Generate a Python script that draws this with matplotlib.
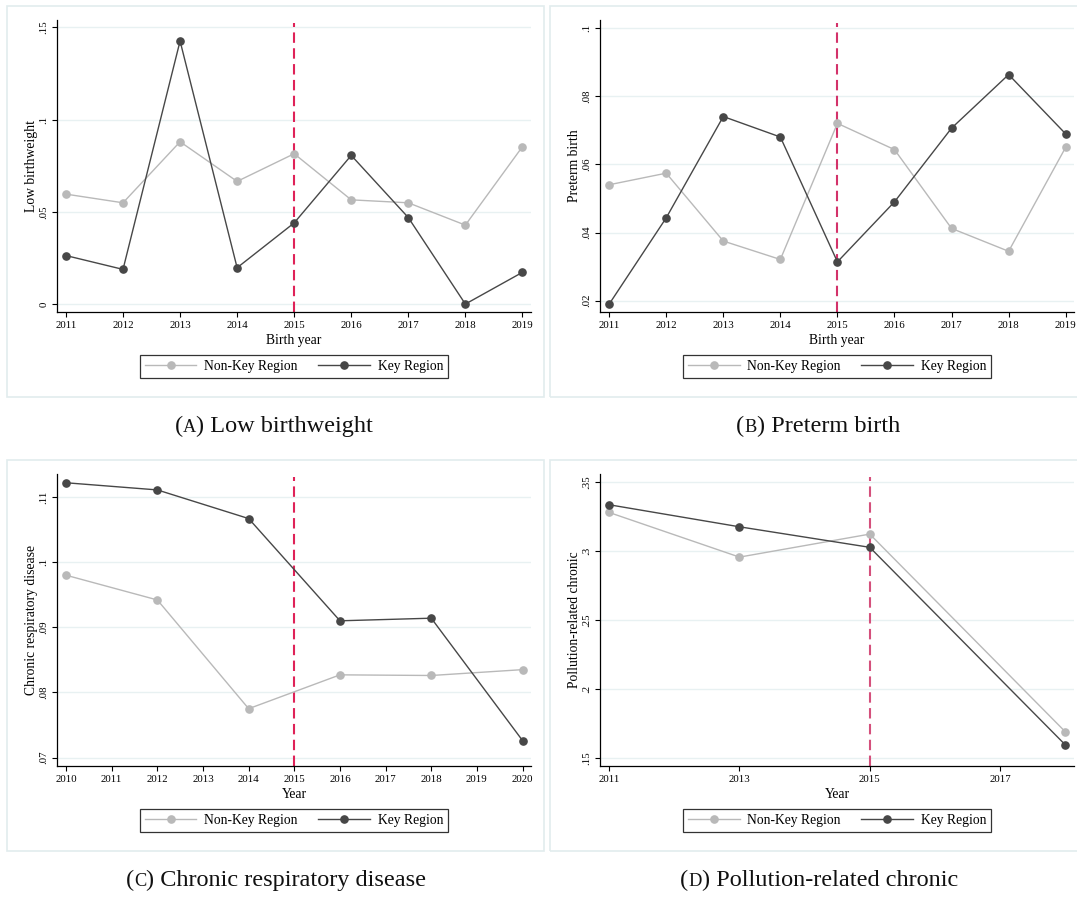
import matplotlib
matplotlib.use("Agg")
import matplotlib.pyplot as plt
from matplotlib.patches import Rectangle
from matplotlib.lines import Line2D
from matplotlib.offsetbox import TextArea, HPacker, AnnotationBbox

plt.rcParams['font.family'] = ['Liberation Serif', 'DejaVu Serif']

# data
years_a = [2011, 2012, 2013, 2014, 2015, 2016, 2017, 2018, 2019]
nonkey_a = [0.0596, 0.0549, 0.0880, 0.0665, 0.0815, 0.0565, 0.0549, 0.0428, 0.0853]
key_a = [0.0263, 0.0188, 0.1426, 0.0197, 0.0440, 0.0806, 0.0469, 0.0000, 0.0172]

years_b = [2011, 2012, 2013, 2014, 2015, 2016, 2017, 2018, 2019]
nonkey_b = [0.0540, 0.0574, 0.0375, 0.0321, 0.0720, 0.0643, 0.0412, 0.0345, 0.0650]
key_b = [0.0190, 0.0443, 0.0740, 0.0680, 0.0314, 0.0490, 0.0706, 0.0863, 0.0689]

years_c = [2010, 2012, 2014, 2016, 2018, 2020]
nonkey_c = [0.0980, 0.0942, 0.0775, 0.0827, 0.0826, 0.0835]
key_c = [0.1122, 0.1111, 0.1067, 0.0910, 0.0914, 0.0726]

years_d = [2011, 2013, 2015, 2018]
nonkey_d = [0.328, 0.2956, 0.3123, 0.1689]
key_d = [0.3336, 0.3176, 0.3027, 0.1594]

yticks_a = [0, 0.05, 0.1, 0.15]
ytick_labels_a = ['0', '.05', '.1', '.15']
yticks_b = [0.02, 0.04, 0.06, 0.08, 0.1]
ytick_labels_b = ['.02', '.04', '.06', '.08', '.1']
yticks_c = [0.07, 0.08, 0.09, 0.1, 0.11]
ytick_labels_c = ['.07', '.08', '.09', '.1', '.11']
yticks_d = [0.15, 0.2, 0.25, 0.3, 0.35]
ytick_labels_d = ['.15', '.2', '.25', '.3', '.35']
xticks_c = list(range(2010, 2021))
xticks_d = [2011, 2013, 2015, 2017]

W, H = 1077, 898
fig = plt.figure(figsize=(W / 100, H / 100), dpi=100)

NONKEY = '#b9b9b9'
KEY = '#474747'
GRID = '#e8f1f2'
FRAME = '#e2eced'


def px_rect(x0, y0, x1, y1):
    return [x0 / W, 1 - y1 / H, (x1 - x0) / W, (y1 - y0) / H]


def panel(rect, years, nonkey, key, xticks, yticks, ylabels, xlim, ylim,
          xlabel, ylabel, vcolor):
    ax = fig.add_axes(rect)
    ax.plot(years, nonkey, color=NONKEY, lw=1.0, marker='o', ms=5.2,
            zorder=3)
    ax.plot(years, key, color=KEY, lw=1.0, marker='o', ms=5.2, zorder=4)
    ax.axvline(2015, color=vcolor, lw=1.5, dashes=(5, 2.6), ymax=0.99,
               zorder=2)
    ax.set_xlim(*xlim)
    ax.set_ylim(*ylim)
    ax.set_xticks(xticks)
    ax.set_xticklabels([str(x) for x in xticks])
    ax.set_yticks(yticks)
    ax.set_yticklabels(ylabels, rotation=90, va='center')
    for y in yticks:
        ax.axhline(y, color=GRID, lw=1.0, zorder=1)
    for s in ['top', 'right']:
        ax.spines[s].set_visible(False)
    for s in ['left', 'bottom']:
        ax.spines[s].set_linewidth(0.9)
    ax.tick_params(direction='out', length=3.6, width=0.8, labelsize=7.8,
                   pad=3)
    ax.set_xlabel(xlabel, fontsize=9.8)
    ax.set_ylabel(ylabel, fontsize=9.8)
    ax.xaxis.set_label_coords(0.5, -0.096)
    ax.xaxis.label.set_va('center')
    ax.yaxis.set_label_coords(-0.055, 0.5)
    ax.yaxis.label.set_va('center')
    return ax


panel(px_rect(57.4, 20, 530.8, 312), years_a, nonkey_a, key_a, years_a,
      yticks_a, ytick_labels_a, (2010.85, 2019.147), (-0.0043, 0.154),
      'Birth year', 'Low birthweight', '#df2258')
panel(px_rect(600.3, 20, 1073.7, 312), years_b, nonkey_b, key_b, years_b,
      yticks_b, ytick_labels_b, (2010.845, 2019.14), (0.0167, 0.1023),
      'Birth year', 'Preterm birth', '#d3326a')
panel(px_rect(57.4, 474.3, 530.8, 766), years_c, nonkey_c, key_c, xticks_c,
      yticks_c, ytick_labels_c, (2009.81, 2020.18), (0.0687, 0.1135),
      'Year', 'Chronic respiratory disease', '#df2258')
panel(px_rect(600.3, 474.3, 1073.7, 766), years_d, nonkey_d, key_d, xticks_d,
      yticks_d, ytick_labels_d, (2010.864, 2018.13), (0.144, 0.3557),
      'Year', 'Pollution-related chronic', '#d4507c')

# outer panel frames
for x0, y0, x1, y1 in [(7, 6, 544, 397), (550, 6, 1090, 397),
                       (7, 460, 544, 851), (550, 460, 1090, 851)]:
    fig.patches.append(Rectangle((x0 / W, 1 - y1 / H), (x1 - x0) / W,
                                 (y1 - y0) / H, transform=fig.transFigure,
                                 fill=False, edgecolor=FRAME, lw=1.2))

# legends
handles = [Line2D([], [], color=NONKEY, lw=1.0, marker='o', ms=5.2),
           Line2D([], [], color=KEY, lw=1.0, marker='o', ms=5.2)]
labels = ['Non-Key Region', 'Key Region']
for cx, cy in [(293.9, 366.7), (837.0, 366.7), (293.9, 820.4), (837.0, 820.4)]:
    leg = fig.legend(handles, labels, loc='center',
                     bbox_to_anchor=(cx / W, 1 - cy / H), ncol=2,
                     fontsize=9.8, frameon=True, fancybox=False,
                     framealpha=1, edgecolor='#333333', borderpad=0.35,
                     handlelength=3.8, handletextpad=0.57,
                     columnspacing=1.5)
    leg.get_frame().set_linewidth(0.9)

# captions with small-caps panel letters
captions = [('A', 'Low birthweight', 274, 426),
            ('B', 'Preterm birth', 818, 426),
            ('C', 'Chronic respiratory disease', 276, 880),
            ('D', 'Pollution-related chronic', 819, 880)]
for letter, text, cx, cy in captions:
    parts = [TextArea('(', textprops=dict(size=17.5, color='#111111')),
             TextArea(letter, textprops=dict(size=13.2, color='#111111')),
             TextArea(') ' + text, textprops=dict(size=17.5,
                                                   color='#111111'))]
    box = HPacker(children=parts, align='baseline', pad=0, sep=0)
    ab = AnnotationBbox(box, (cx / W, 1 - cy / H), xycoords='figure fraction',
                        frameon=False, box_alignment=(0.5, 0.5))
    fig.add_artist(ab)

fig.savefig('out.png', dpi=100)
